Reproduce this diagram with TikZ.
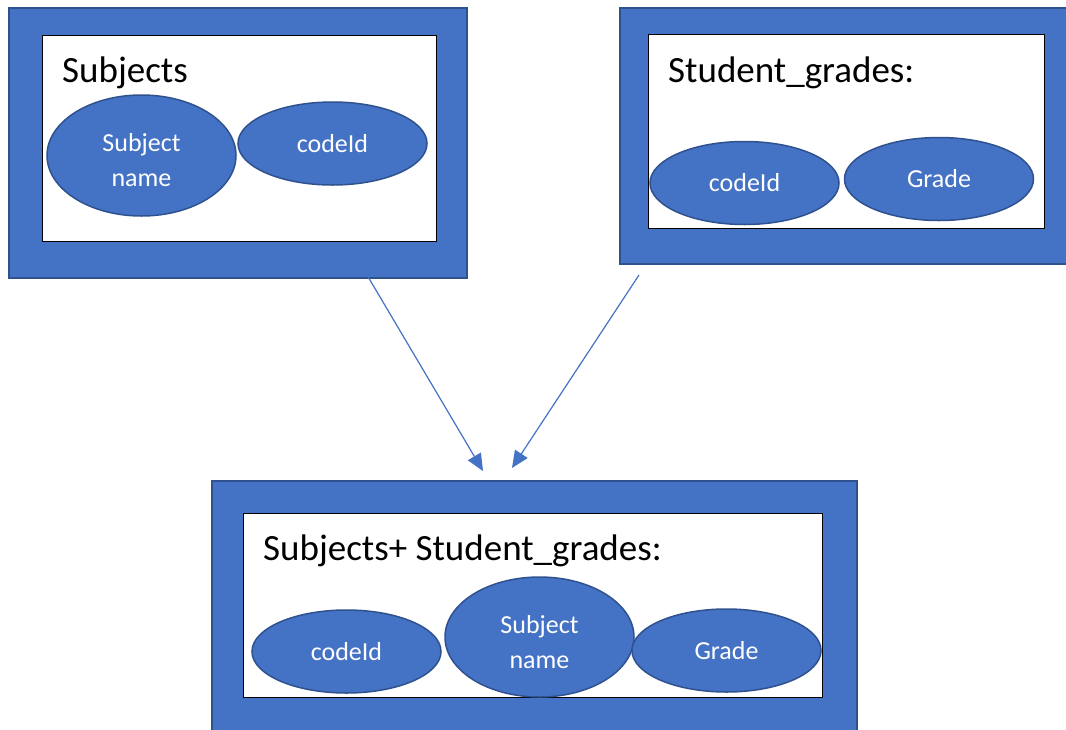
\documentclass[tikz,border=0pt]{standalone}
\usepackage{fontspec}
\setmainfont{Carlito}
\usetikzlibrary{arrows.meta,shapes.geometric}
\definecolor{blu}{HTML}{4472C4}
\definecolor{dblu}{HTML}{2F528F}
\newcommand{\twoline}[2]{\raisebox{-13pt}[0pt][0pt]{\begin{tabular}{@{}c@{}}#1\\#2\end{tabular}}}
\begin{document}
\begin{tikzpicture}[x=1pt,y=-1pt,
  outer/.style={draw=dblu, line width=1.5pt, fill=blu, rectangle, anchor=north west, inner sep=0pt},
  inner/.style={draw=black, line width=1pt, fill=white, rectangle, anchor=north west, inner sep=0pt},
  attr/.style={ellipse, draw=dblu, fill=blu, line width=1.5pt, text=white,
    font=\fontsize{26}{35}\selectfont, align=center, inner sep=0pt,
    minimum width=189pt, minimum height=83pt},
  tall/.style={minimum height=121pt},
  title/.style={anchor=base west, font=\fontsize{37}{44}\selectfont, inner sep=0pt},
  link/.style={draw=blu, line width=1.2pt, -{Triangle[length=17pt,width=15pt]}}]
\clip (0,0) rectangle (1066,729);
\fill[white] (0,0) rectangle (1066,729);
% Subjects
\node[outer, minimum width=458pt, minimum height=270pt] (o1) at (8,7) {};
\node[inner, minimum width=394pt, minimum height=206pt] (i1) at (42,35) {};
\node[title] (t1) at (62,82) {Subjects};
\node[attr, tall] (e1) at (141.5,155.5) {\twoline{Subject}{name}};
\node[attr] (e2) at (332.5,143.5) {codeId};
% Student_grades
\node[outer, minimum width=452pt, minimum height=256pt] (o2) at (619,7) {};
\node[inner, minimum width=396pt, minimum height=194pt] (i2) at (648,34) {};
\node[title] (t2) at (668,82) {Student\_grades:};
\node[attr] (e3) at (744.5,183) {codeId};
\node[attr] (e4) at (939,179) {Grade};
% Joined
\node[outer, minimum width=645pt, minimum height=260pt] (o3) at (211,480) {};
\node[inner, minimum width=579pt, minimum height=184pt] (i3) at (243,513) {};
\node[title] (t3) at (263,560) {Subjects+ Student\_grades:};
\node[attr] (e5) at (346.5,651.5) {codeId};
\node[attr, tall, minimum height=120pt] (e6) at (539.5,637) {\twoline{Subject}{name}};
\node[attr] (e7) at (726.5,650.5) {Grade};
% arrows
\coordinate (a1s) at (367,275);
\coordinate (a1e) at (483,471);
\coordinate (a2s) at (639,275);
\coordinate (a2e) at (512,468);
\draw[link] (a1s) -- (a1e);
\draw[link] (a2s) -- (a2e);
\end{tikzpicture}
\end{document}
